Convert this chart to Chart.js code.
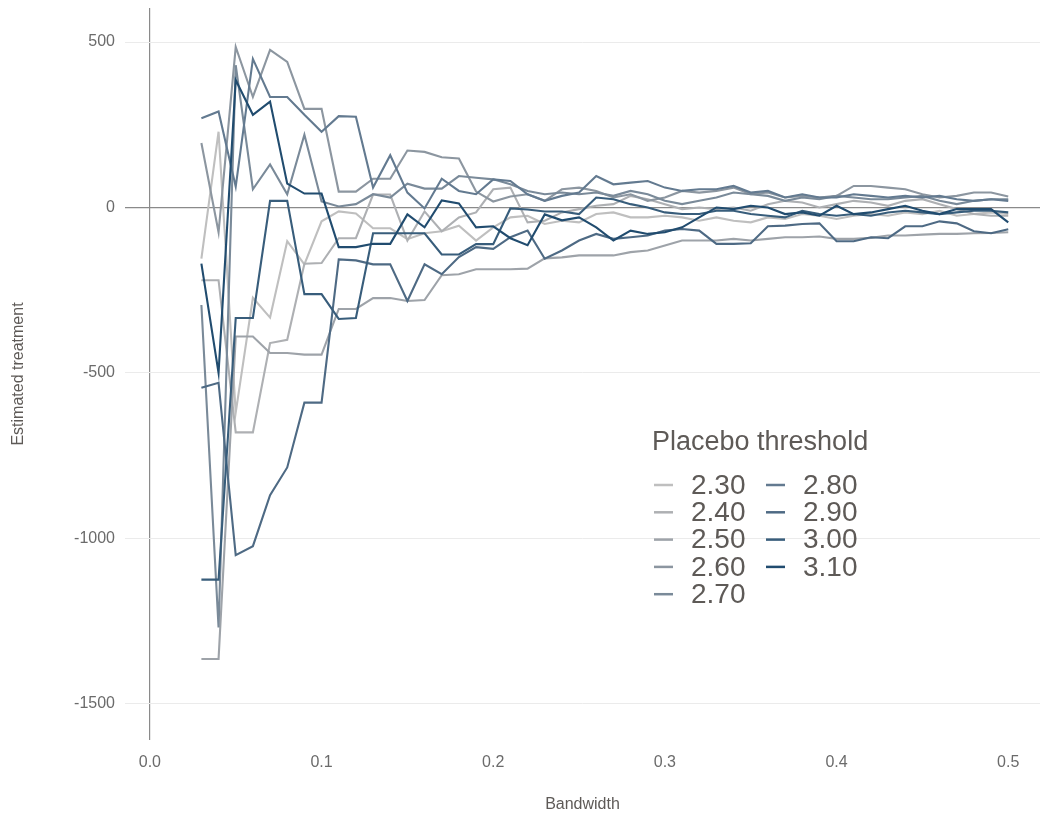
<!DOCTYPE html>
<html>
<head>
<meta charset="utf-8">
<script src="https://cdn.jsdelivr.net/npm/chart.js@4.4.0/dist/chart.umd.min.js"></script>
<style>
  html, body { margin: 0; padding: 0; background: #ffffff; }
  #wrap { width: 1040px; height: 818px; }
</style>
</head>
<body>
<div id="wrap"><canvas id="placeboChart" width="1040" height="818"></canvas></div>
<script>
// Bandwidths used for each placebo estimate
const bandwidth = [0.03, 0.04, 0.05, 0.06, 0.07, 0.08, 0.09, 0.10, 0.11, 0.12, 0.13, 0.14,
                   0.15, 0.16, 0.17, 0.18, 0.19, 0.20, 0.21, 0.22, 0.23, 0.24, 0.25, 0.26,
                   0.27, 0.28, 0.29, 0.30, 0.31, 0.32, 0.33, 0.34, 0.35, 0.36, 0.37, 0.38,
                   0.39, 0.40, 0.41, 0.42, 0.43, 0.44, 0.45, 0.46, 0.47, 0.48, 0.49, 0.50];

const thresholds = ['2.30', '2.40', '2.50', '2.60', '2.70', '2.80', '2.90', '3.00', '3.10'];
const lineColors = ['#bfbfbf', '#aeb0b3', '#9ea3a9', '#8c96a0', '#7a8a99', '#637a90', '#4e6a84', '#385d7b', '#214c6f'];

// Estimated treatment effect, one list per placebo threshold
const est230 = [-155, 229, -620, -273, -333, -102, -172, -42, -12, -18, -63, -63, -96, -78, -72, -55,
                -100, -60, -30, -25, -50, -40, -45, -20, -15, -30, -30, -25, -30, -40, -30, -40,
                -45, -30, -35, -20, -25, -35, -25, -20, -25, -15, -20, -10, -25, -20, -15, -20];
const est240 = [-220, -220, -680, -680, -410, -400, -170, -168, -93, -93, 39, 39, -100, -12, -72, -30,
                -15, 55, 60, -45, -40, -15, -5, 5, 10, 35, 25, 10, -5, 0, -5, 0,
                -10, 10, 20, 15, 0, 10, 20, 15, 5, 20, 25, 10, -5, -20, -25, -25];
const est250 = [-1365, -1365, -390, -390, -440, -440, -445, -445, -307, -307, -274, -274, -283, -280, -205, -202,
                -187, -187, -187, -185, -154, -151, -145, -145, -145, -135, -130, -115, -100, -100, -100, -95,
                -100, -95, -90, -90, -88, -95, -95, -92, -85, -85, -82, -80, -80, -78, -77, -75];
const est260 = [195, -75, 485, 334, 476, 440, 298, 298, 48, 48, 87, 87, 172, 168, 152, 148,
                48, 18, 33, 40, 20, 55, 60, 50, 30, 40, 20, 30, 50, 45, 50, 60,
                40, 45, 30, 35, 30, 35, 65, 65, 60, 55, 40, 30, 35, 45, 45, 33];
const est270 = [-295, -1270, 430, 55, 130, 40, 220, 18, 3, 10, 40, 30, 72, 57, 57, 95,
                90, 85, 70, 50, 40, 45, 40, 45, 35, 50, 40, 20, 10, 20, 30, 45,
                40, 35, 20, 30, 25, 35, 30, 25, 25, 30, 35, 20, 10, 20, 25, 25];
const est280 = [270, 290, 63, 449, 334, 334, 280, 229, 276, 274, 60, 158, 45, -3, 87, 50,
                40, 85, 80, 40, 20, 35, 45, 95, 70, 75, 80, 60, 50, 55, 55, 65,
                45, 50, 30, 40, 30, 30, 40, 35, 30, 35, 30, 35, 25, 20, 25, 20];
const est290 = [-545, -530, -1051, -1024, -870, -786, -590, -590, -157, -160, -172, -172, -283, -172, -202, -150,
                -120, -125, -90, -70, -155, -130, -100, -80, -95, -90, -85, -70, -65, -70, -110, -110,
                -108, -57, -55, -50, -48, -102, -102, -90, -93, -57, -57, -42, -48, -72, -78, -66];
const est300 = [-1125, -1125, -334, -334, 20, 20, -262, -262, -337, -334, -78, -78, -78, -78, -142, -142,
                -111, -111, -3, -6, -12, -12, -20, 30, 25, 10, 0, -15, -20, -20, -10, -10,
                -20, -25, -30, -10, -20, -25, -20, -25, -15, -10, -15, -20, -15, -10, -10, -15];
const est310 = [-170, -500, 385, 280, 320, 72, 42, 42, -120, -120, -110, -110, -21, -60, 21, 12,
                -60, -57, -93, -114, -21, -39, -30, -60, -100, -70, -80, -75, -60, -30, 0, -5,
                5, 0, -20, -15, -25, 5, -20, -15, -5, 5, -10, -20, -5, -5, -5, -45];

const estimates = [est230, est240, est250, est260, est270, est280, est290, est300, est310];

const xTicks = [0, 0.1, 0.2, 0.3, 0.4, 0.5];
const yTicks = [-1500, -1000, -500, 0, 500];

const fontFamily = '"Liberation Sans", Arial, sans-serif';
const textColor = '#5e5a57';
const tickColor = '#6b6b6b';

// Legend laid out in two columns inside the panel
const placeboLegend = {
  id: 'placeboLegend',
  afterDraw(chart) {
    const ctx = chart.ctx;
    ctx.save();
    ctx.fillStyle = textColor;
    ctx.textBaseline = 'middle';
    ctx.textAlign = 'left';
    ctx.font = '27px ' + fontFamily;
    ctx.fillText('Placebo threshold', 652, 443);
    ctx.font = '28px ' + fontFamily;
    chart.data.datasets.forEach((ds, i) => {
      const col = i < 5 ? 0 : 1;
      const row = i < 5 ? i : i - 5;
      const x = 654 + col * 112;
      const y = 485 + row * 27.3;
      ctx.strokeStyle = ds.borderColor;
      ctx.lineWidth = 2.5;
      ctx.beginPath();
      ctx.moveTo(x, y);
      ctx.lineTo(x + 19, y);
      ctx.stroke();
      ctx.fillStyle = textColor;
      ctx.fillText(ds.label, x + 37, y + 1);
    });
    ctx.restore();
  }
};

const datasets = thresholds.map((t, i) => ({
  label: t,
  data: bandwidth.map((b, j) => ({ x: b, y: estimates[i][j] })),
  borderColor: lineColors[i],
  borderWidth: 2.1,
  pointRadius: 0,
  tension: 0,
  fill: false,
  order: thresholds.length - i
}));

new Chart(document.getElementById('placeboChart'), {
  type: 'line',
  data: { datasets: datasets },
  options: {
    responsive: false,
    animation: false,
    devicePixelRatio: 1,
    layout: { padding: { top: 8, right: 0, bottom: 0, left: 0 } },
    plugins: {
      legend: { display: false },
      tooltip: { enabled: false }
    },
    scales: {
      x: {
        type: 'linear',
        min: -0.0145,
        max: 0.5185,
        afterBuildTicks: axis => { axis.ticks = xTicks.map(v => ({ value: v })); },
        afterFit: axis => {
          axis.height = 78;
          axis.paddingLeft = 0;
          axis.paddingRight = 0;
        },
        ticks: {
          color: tickColor,
          font: { family: fontFamily, size: 16 },
          padding: 13,
          maxRotation: 0,
          callback: v => v.toFixed(1)
        },
        grid: {
          drawTicks: false,
          color: c => (c.tick && c.tick.value === 0 ? '#8a8a8a' : 'rgba(0,0,0,0)'),
          lineWidth: 1.2
        },
        border: { display: false },
        title: {
          display: true,
          text: 'Bandwidth',
          color: textColor,
          font: { family: fontFamily, size: 16 },
          padding: { top: 0, bottom: 4 }
        }
      },
      y: {
        type: 'linear',
        min: -1610,
        max: 603,
        afterBuildTicks: axis => { axis.ticks = yTicks.map(v => ({ value: v })); },
        afterFit: axis => {
          axis.width = 125;
          axis.paddingTop = 0;
          axis.paddingBottom = 0;
        },
        ticks: {
          color: tickColor,
          font: { family: fontFamily, size: 16 },
          padding: 10,
          callback: v => String(v)
        },
        grid: {
          drawTicks: false,
          color: c => (c.tick && c.tick.value === 0 ? '#8a8a8a' : '#ebebeb'),
          lineWidth: c => (c.tick && c.tick.value === 0 ? 1.2 : 1)
        },
        border: { display: false },
        title: {
          display: true,
          text: 'Estimated treatment',
          color: textColor,
          font: { family: fontFamily, size: 16 },
          padding: { top: 9, bottom: 0 }
        }
      }
    }
  },
  plugins: [placeboLegend]
});
</script>
</body>
</html>
